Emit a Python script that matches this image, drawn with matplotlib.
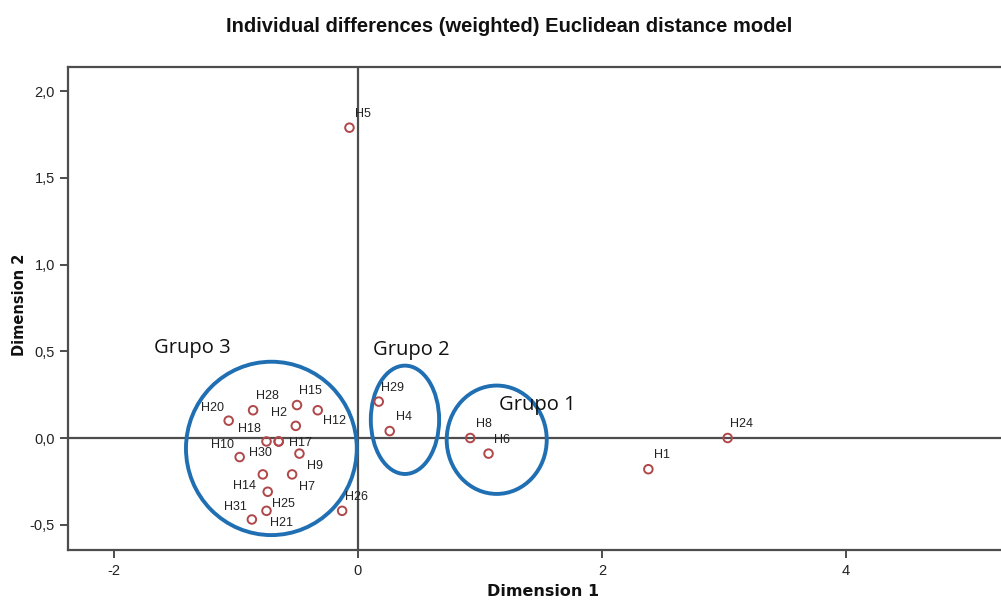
import matplotlib
matplotlib.use("Agg")
import matplotlib.pyplot as plt
from matplotlib.patches import Ellipse

plt.rcParams["axes.unicode_minus"] = False

# MDS stimulus coordinates
names = ["H5", "H24", "H1", "H8", "H6", "H29", "H4", "H26",
         "H20", "H28", "H15", "H12", "H2", "H18", "H17", "H30",
         "H10", "H9", "H14", "H7", "H25", "H21", "H31"]
dim1 = [-0.07, 3.03, 2.38, 0.92, 1.07, 0.17, 0.26, -0.13,
        -1.06, -0.86, -0.50, -0.33, -0.51, -0.75, -0.65, -0.65,
        -0.97, -0.48, -0.78, -0.54, -0.74, -0.75, -0.87]
dim2 = [1.79, 0.0, -0.18, 0.0, -0.09, 0.21, 0.04, -0.42,
        0.10, 0.16, 0.19, 0.16, 0.07, -0.02, -0.02, -0.02,
        -0.11, -0.09, -0.21, -0.21, -0.31, -0.42, -0.47]

# hand-drawn group ellipses: centre x, centre y, width, height
groups = ["Grupo 3", "Grupo 2", "Grupo 1"]
grp_cx = [-0.71, 0.385, 1.137]
grp_cy = [-0.06, 0.105, -0.01]
grp_w = [1.40, 0.56, 0.82]
grp_h = [1.00, 0.625, 0.625]

# label placement (offset in points from marker)
UR, UL, LR, LL, R = (10, 10), (-12, 9), (11, -9), (-13, -8), (16, -1)
lab_off = {"H20": UL, "H28": UR, "H15": UR, "H12": (12, -8), "H2": UL,
           "H18": UL, "H17": R, "H30": LL, "H10": UL, "H9": LR,
           "H14": LL, "H7": LR, "H25": LR, "H21": LR, "H31": UL}
grp_txt = [(-1.36, 0.52), (0.44, 0.51), (1.47, 0.19)]

MARK = "#b0474a"
BLUE = "#1f6fb2"
AX = "#4d4d4d"

fig = plt.figure(figsize=(10.01, 6.0), dpi=100)
ax = fig.add_axes([68 / 1001, 50 / 600, (1012 - 68) / 1001, 483 / 600])
ax.set_xlim(-2.377, (1012 - 358) / 122)
ax.set_ylim(-0.646, 2.14)

ax.axhline(0, color=AX, lw=1.6, zorder=1)
ax.axvline(0, color=AX, lw=1.6, zorder=1)

for cx, cy, w, h in zip(grp_cx, grp_cy, grp_w, grp_h):
    ax.add_patch(Ellipse((cx, cy), w, h, fill=False, ec=BLUE, lw=2.8, zorder=2))

ax.scatter(dim1, dim2, s=38, facecolors="none", edgecolors=MARK,
           linewidths=1.4, zorder=3)
for n, x, y in zip(names, dim1, dim2):
    ax.annotate(n, (x, y), xytext=lab_off.get(n, UR), textcoords="offset points",
                ha="center", va="center", fontsize=9, family="Liberation Sans",
                color="#222222", zorder=4)

for g, (tx, ty) in zip(groups, grp_txt):
    ax.text(tx, ty, g, fontsize=14.5, family="Open Sans", color="#111111",
            ha="center", va="center", zorder=4)

ax.spines["right"].set_visible(False)
for side in ("left", "bottom", "top"):
    ax.spines[side].set_color(AX)
    ax.spines[side].set_linewidth(1.6)

ax.set_xticks([-2, 0, 2, 4])
ax.set_yticks([-0.5, 0.0, 0.5, 1.0, 1.5, 2.0])
ax.set_yticklabels(["-0,5", "0,0", "0,5", "1,0", "1,5", "2,0"])
ax.tick_params(axis="both", direction="out", length=6, width=1.4, color=AX,
               labelsize=10.5, labelcolor="#222222")
ax.tick_params(axis="x", pad=4)
for lb in ax.get_xticklabels() + ax.get_yticklabels():
    lb.set_family("Liberation Sans")

fig.text(543 / 1001, 1 - 591 / 600, "Dimension 1", ha="center", va="center",
         fontsize=11.5, fontweight="bold", family="DejaVu Sans", color="#111111")
fig.text(20 / 1001, 1 - 305 / 600, "Dimension 2", ha="center", va="center",
         rotation=90, fontsize=10.5, fontweight="bold", family="DejaVu Sans",
         color="#111111")

fig.text(0.509, 1 - 27 / 600, "Individual differences (weighted) Euclidean distance model",
         ha="center", va="center", fontsize=14.5, fontweight="bold",
         family="Liberation Sans", color="#111111")

fig.savefig("out.png", dpi=100)
